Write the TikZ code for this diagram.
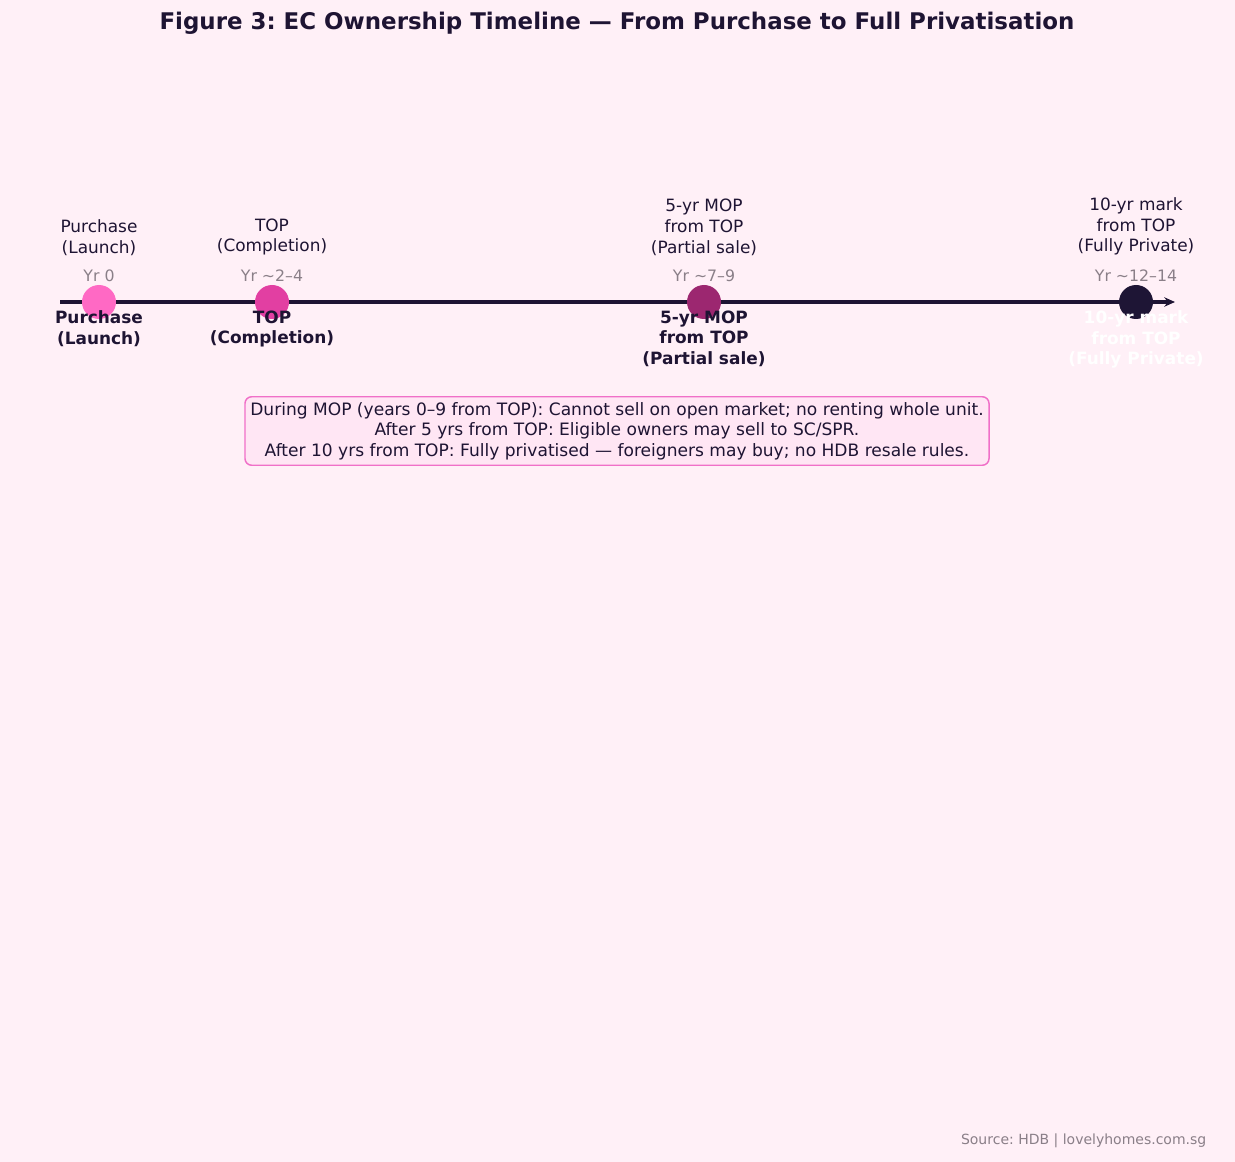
\documentclass[tikz,border=0pt]{standalone}
\usepackage{fontspec}
\setmainfont{DejaVu Sans}
\usetikzlibrary{arrows.meta}
\frenchspacing
\definecolor{bgpink}{HTML}{FFF0F7}
\definecolor{boxpink}{HTML}{FFE6F4}
\definecolor{boxline}{HTML}{F070C8}
\definecolor{ink}{HTML}{1E1433}
\definecolor{greytxt}{HTML}{8A7F88}
\definecolor{mA}{HTML}{FF69C4}
\definecolor{mB}{HTML}{E23FA2}
\definecolor{mC}{HTML}{9C2770}
\definecolor{mD}{HTML}{1E1535}
\tikzset{
  px/.style={x=0.75pt,y=-0.75pt},
  toplbl/.style={align=center,font=\fontsize{12.7}{15.5}\selectfont,text=ink,anchor=south},
  yrlbl/.style={font=\fontsize{11.8}{13}\selectfont,text=greytxt},
  botlbl/.style={align=center,font=\fontsize{12.7}{15.5}\selectfont\bfseries,anchor=north},
  dot/.style={circle,minimum size=25.5pt,inner sep=0pt}
}
\begin{document}
\begin{tikzpicture}[px]
  \fill[bgpink] (0,0) rectangle (1235,1162);
  \useasboundingbox (0,0) rectangle (1235,1162);
  \node[font=\fontsize{17.2}{20}\selectfont\bfseries,text=ink] (title) at (617,23)
    {Figure 3: EC Ownership Timeline — From Purchase to Full Privatisation};
  % axis
  \coordinate (start) at (60,302);
  \coordinate (end) at (1175,302);
  \draw[ink,line width=2.3pt,-{Stealth[length=8pt,width=7pt]}] (start) -- (end);
  % milestones
  \foreach \x/\c/\n/\up/\yr/\tc in {
      99/mA/buy/{Purchase\\(Launch)}/{Yr 0}/ink,
      272/mB/top/{TOP\\(Completion)}/{Yr \textasciitilde2–4}/ink,
      704/mC/mop/{5-yr MOP\\from TOP\\(Partial sale)}/{Yr \textasciitilde7–9}/ink,
      1136/mD/priv/{10-yr mark\\from TOP\\(Fully Private)}/{Yr \textasciitilde12–14}/white} {
    \node[dot,fill=\c] (\n) at (\x,302) {};
    \node[yrlbl] (\n yr) at (\x,276) {\yr};
    \node[toplbl] (\n up) at (\x,260) {\up};
    \node[botlbl,text=\tc] (\n low) at (\x,306) {\up};
  }
  % notes
  \node[draw=boxline,fill=boxpink,rounded corners=5pt,line width=1.1pt,align=center,
        font=\fontsize{12.8}{15.5}\selectfont,text=ink,inner xsep=4pt,inner ysep=4pt] (notes) at (617,431)
    {During MOP (years 0–9 from TOP): Cannot sell on open market; no renting whole unit.\\
     After 5 yrs from TOP: Eligible owners may sell to SC/SPR.\\
     After 10 yrs from TOP: Fully privatised — foreigners may buy; no HDB resale rules.};
  \node[anchor=east,font=\fontsize{10.5}{12}\selectfont,text=greytxt] (src) at (1211,1141)
    {Source: HDB | lovelyhomes.com.sg};
\end{tikzpicture}
\end{document}
